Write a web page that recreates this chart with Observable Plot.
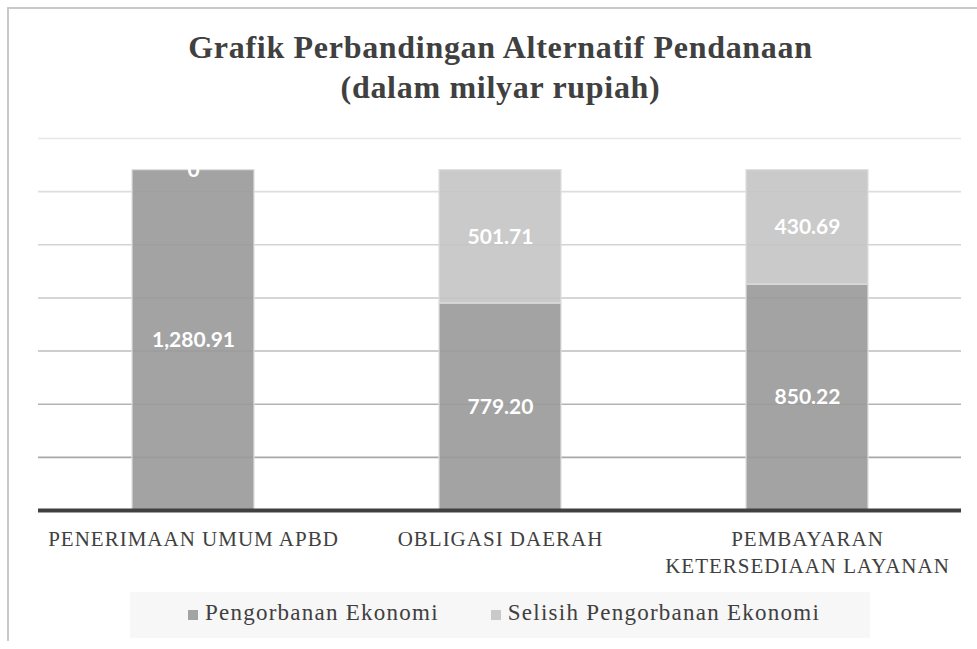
<!DOCTYPE html>
<html>
<head>
<meta charset="utf-8">
<script src="https://cdn.jsdelivr.net/npm/d3@7"></script>
<script src="https://cdn.jsdelivr.net/npm/@observablehq/plot@0.6"></script>
<style>
  html, body { margin: 0; padding: 0; background: #ffffff; }
  #wrap { position: relative; width: 977px; height: 649px; overflow: hidden; background: #fff; }
  #frame { position: absolute; left: 7px; top: 7px; width: 1000px; height: 634px;
           border-left: 2px solid #c9c9c9; border-top: 2px solid #c9c9c9; box-sizing: border-box; }
  #title { position: absolute; left: 12px; top: 27px; width: 977px; text-align: center;
           font-family: "Liberation Serif", serif; font-weight: bold; font-size: 32px;
           line-height: 40px; color: #404040; letter-spacing: 0.7px; }
  #plot { position: absolute; left: 0; top: 130px; }
  #legend { position: absolute; left: 130px; top: 592px; width: 740px; height: 46px;
            background: #f7f7f7; display: flex; align-items: center; justify-content: center;
            font-family: "Liberation Serif", serif; font-size: 23px; color: #404040;
            letter-spacing: 1.25px; box-sizing: border-box; padding-bottom: 4px; padding-left: 8px; }
  .item { display: flex; align-items: center; }
  .item + .item { margin-left: 52px; }
  .sw { width: 10px; height: 10px; margin-right: 7px; margin-top: 4px; }
</style>
</head>
<body>
<div id="wrap">
  <div id="frame"></div>
  <div id="title">Grafik Perbandingan Alternatif Pendanaan<br>(dalam milyar rupiah)</div>
  <div id="plot"></div>
  <div id="legend"></div>
</div>
<script>
// ---- data ----
const categories = ["PENERIMAAN UMUM APBD", "OBLIGASI DAERAH", "PEMBAYARAN\nKETERSEDIAAN LAYANAN"];
const seriesNames = ["Pengorbanan Ekonomi", "Selisih Pengorbanan Ekonomi"];
const pengorbananEkonomi = [1280.91, 779.20, 850.22];
const selisihPengorbananEkonomi = [0, 501.71, 430.69];
const yTicks = [200, 400, 600, 800, 1000, 1200, 1400];

// ---- styles ----
const seriesColors = ["#999999", "#c4c4c4"];
const legendColors = ["#a3a3a3", "#c9c9c9"];

const seriesValues = [pengorbananEkonomi, selisihPengorbananEkonomi];
const table = categories.flatMap((c, i) =>
  seriesNames.map((s, j) => ({category: c, series: s, value: seriesValues[j][i]}))
);
const fmt = d3.format(",.2f");
const labelOf = d => d.value === 0 ? "0" : fmt(d.value);
const gridShade = d3.scaleLinear().domain([200, 1400]).range(["#a8a8a8", "#e8e8e8"]);

const chart = Plot.plot({
  width: 977,
  height: 450,
  marginTop: 8,
  marginBottom: 70,
  marginLeft: 38,
  marginRight: 16,
  x: {domain: categories, paddingInner: 0.6035, paddingOuter: 0.3017, axis: null},
  y: {domain: [0, 1400], axis: null},
  color: {domain: seriesNames, range: seriesColors},
  style: {background: "transparent", overflow: "visible"},
  marks: [
    Plot.ruleY(yTicks, {stroke: d => gridShade(d), strokeWidth: 1.6}),
    Plot.barY(table, {x: "category", y: "value", fill: "series", fillOpacity: 0.9,
                      stroke: "#dedede", strokeWidth: 1.2}),
    Plot.text(table, Plot.stackY({x: "category", y: "value", text: labelOf,
                      fill: "white", fontFamily: "Lato", fontWeight: "bold", fontSize: 21})),
    Plot.ruleY([0], {stroke: "#404040", strokeWidth: 4}),
    Plot.text(categories, {x: d => d, text: d => d, frameAnchor: "bottom", lineAnchor: "top",
                      dy: 17, lineHeight: 1.26, fill: "#404040",
                      fontFamily: "Liberation Serif", fontSize: 21})
  ]
});
chart.querySelectorAll('g[font-family="Liberation Serif"]').forEach(g => g.setAttribute("letter-spacing", "1"));
document.getElementById("plot").appendChild(chart);

// legend
const legend = document.getElementById("legend");
seriesNames.forEach((s, i) => {
  const item = document.createElement("div");
  item.className = "item";
  const sw = document.createElement("div");
  sw.className = "sw";
  sw.style.background = legendColors[i];
  const tx = document.createElement("span");
  tx.textContent = s;
  item.appendChild(sw);
  item.appendChild(tx);
  legend.appendChild(item);
});
</script>
</body>
</html>
